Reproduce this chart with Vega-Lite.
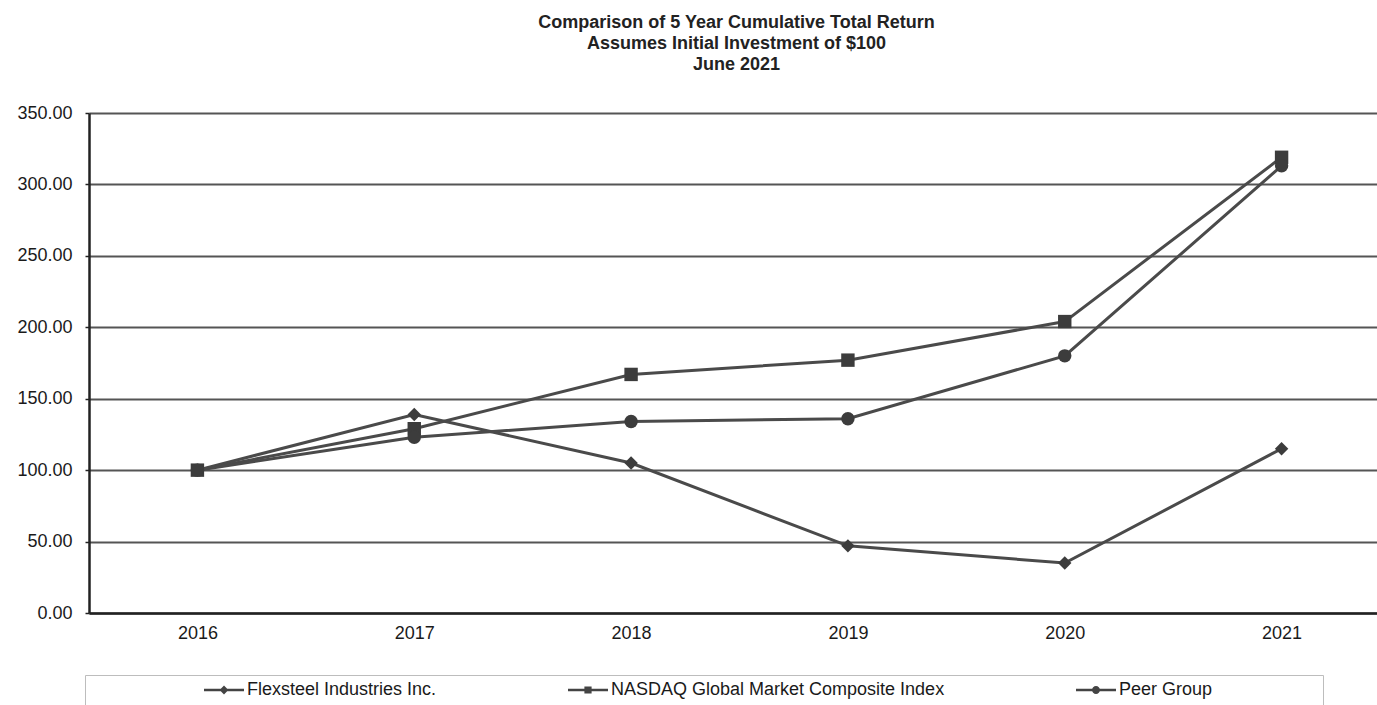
{
  "$schema": "https://vega.github.io/schema/vega-lite/v6.json",
  "autosize": "none",
  "width": 1301,
  "height": 500,
  "padding": {"left": 89, "top": 113, "right": 0, "bottom": 92},
  "background": "white",
  "config": {
    "font": "Liberation Sans",
    "view": {"stroke": null}
  },
  "title": {
    "text": ["Comparison of 5 Year Cumulative Total Return", "Assumes Initial Investment of $100", "June 2021"],
    "fontSize": 18,
    "fontWeight": "bold",
    "color": "#222",
    "lineHeight": 21,
    "anchor": "middle",
    "dx": -3,
    "offset": 30
  },
  "data": {
    "values": [
      {"year": "2016", "series": "Flexsteel Industries Inc.", "value": 100},
      {"year": "2017", "series": "Flexsteel Industries Inc.", "value": 139},
      {"year": "2018", "series": "Flexsteel Industries Inc.", "value": 105},
      {"year": "2019", "series": "Flexsteel Industries Inc.", "value": 47},
      {"year": "2020", "series": "Flexsteel Industries Inc.", "value": 35},
      {"year": "2021", "series": "Flexsteel Industries Inc.", "value": 115},
      {"year": "2016", "series": "NASDAQ Global Market Composite Index", "value": 100},
      {"year": "2017", "series": "NASDAQ Global Market Composite Index", "value": 129},
      {"year": "2018", "series": "NASDAQ Global Market Composite Index", "value": 167},
      {"year": "2019", "series": "NASDAQ Global Market Composite Index", "value": 177},
      {"year": "2020", "series": "NASDAQ Global Market Composite Index", "value": 204},
      {"year": "2021", "series": "NASDAQ Global Market Composite Index", "value": 319},
      {"year": "2016", "series": "Peer Group", "value": 100},
      {"year": "2017", "series": "Peer Group", "value": 123},
      {"year": "2018", "series": "Peer Group", "value": 134},
      {"year": "2019", "series": "Peer Group", "value": 136},
      {"year": "2020", "series": "Peer Group", "value": 180},
      {"year": "2021", "series": "Peer Group", "value": 313}
    ]
  },
  "encoding": {
    "x": {
      "field": "year",
      "type": "ordinal",
      "scale": {"type": "point", "padding": 0.5},
      "axis": {
        "title": null,
        "labelAngle": 0,
        "labelFontSize": 18,
        "labelColor": "#1a1a1a",
        "labelPadding": 11,
        "tickSize": 0,
        "domainColor": "#222",
        "domainWidth": 2.5,
        "grid": false
      }
    },
    "y": {
      "field": "value",
      "type": "quantitative",
      "scale": {"domain": [0, 350], "nice": false, "zero": true},
      "axis": {
        "title": null,
        "values": [0, 50, 100, 150, 200, 250, 300, 350],
        "format": ".2f",
        "labelFontSize": 18,
        "labelColor": "#1a1a1a",
        "labelPadding": 13,
        "tickSize": 4,
        "tickColor": "#222",
        "tickWidth": 1.5,
        "domainColor": "#222",
        "domainWidth": 2.5,
        "grid": true,
        "gridColor": "#555",
        "gridWidth": 2
      }
    }
  },
  "resolve": {"scale": {"shape": "independent"}, "legend": {"shape": "independent"}},
  "layer": [
    {
      "mark": {"type": "line", "color": "#4a4a4a", "strokeWidth": 3},
      "encoding": {
        "detail": {"field": "series", "type": "nominal"}
      }
    },
    {
      "mark": {"type": "point", "filled": true, "color": "#3c3c3c", "opacity": 1, "size": 180},
      "encoding": {
        "shape": {
          "field": "series",
          "type": "nominal",
          "scale": {
            "domain": ["Flexsteel Industries Inc.", "NASDAQ Global Market Composite Index", "Peer Group"],
            "range": ["diamond", "square", "circle"]
          },
          "legend": null
        }
      }
    },
    {
      "mark": {"type": "point", "filled": true, "color": "#444", "opacity": 0, "size": 256},
      "encoding": {
        "shape": {
          "field": "series",
          "type": "nominal",
          "scale": {
            "domain": ["Flexsteel Industries Inc.", "NASDAQ Global Market Composite Index", "Peer Group"],
            "range": [
              "M-2.5,-0.16H2.5V0.16H-2.5ZM0,-0.55L0.55,0L0,0.55L-0.55,0Z",
              "M-2.5,-0.16H2.5V0.16H-2.5ZM-0.45,-0.45H0.45V0.45H-0.45Z",
              "M-2.5,-0.16H2.5V0.16H-2.5ZM0.5,0A0.5,0.5,0,1,1,-0.5,0A0.5,0.5,0,1,1,0.5,0Z"
            ]
          },
          "legend": {
            "orient": "none",
            "legendX": -4,
            "legendY": 562,
            "direction": "horizontal",
            "columns": 3,
            "columnPadding": 116,
            "padding": 6,
            "strokeColor": "#bdbdbd",
            "fillColor": "white",
            "title": " ",
            "titleOrient": "left",
            "titleFontSize": 18,
            "titlePadding": 98,
            "symbolSize": 256,
            "symbolOffset": 26,
            "labelOffset": 14,
            "symbolOpacity": 1,
            "symbolFillColor": "#444",
            "symbolStrokeColor": "#444",
            "symbolStrokeWidth": 0,
            "labelFontSize": 18,
            "labelColor": "#1a1a1a",
            "labelLimit": 600,
            "labelExpr": "datum.label == 'Peer Group' ? 'Peer Group\u2800\u2800\u2800\u2800\u2800\u2800\u2800\u2800' : datum.label"
          }
        }
      }
    }
  ]
}
